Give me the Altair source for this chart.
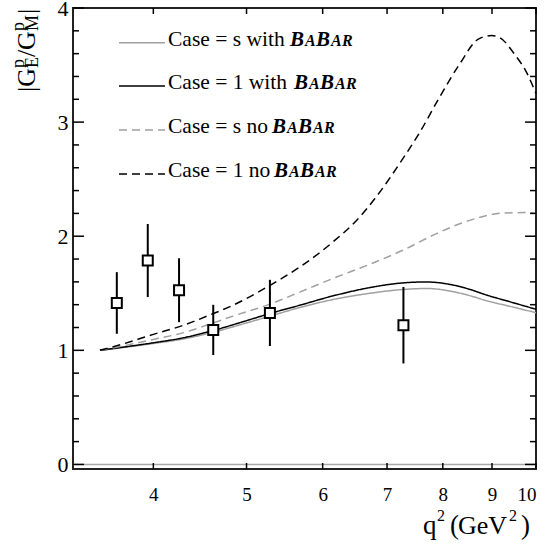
import altair as alt
import pandas as pd

W, H = 463, 461
PL, PT = 73, 8
FONT = "Liberation Serif"

# ---- data ----
pt_q = [3.665, 3.947, 4.254, 4.617, 5.288, 7.28]
pt_v = [1.415, 1.787, 1.527, 1.179, 1.328, 1.220]
pt_err = [0.27, 0.32, 0.28, 0.22, 0.29, 0.335]

q_with = [3.52, 3.7, 4.0, 4.3, 4.6, 5.0, 5.29, 5.68, 6.15, 6.72, 7.27, 7.69, 8.2, 8.55, 8.88, 9.4, 10.0]
v_1_with = [1.00, 1.025, 1.066, 1.11, 1.17, 1.26, 1.323, 1.395, 1.477, 1.55, 1.591, 1.599, 1.572, 1.532, 1.485, 1.425, 1.36]
v_s_with = [1.00, 1.022, 1.06, 1.10, 1.155, 1.24, 1.30, 1.375, 1.445, 1.50, 1.533, 1.542, 1.514, 1.477, 1.435, 1.385, 1.33]

q_s_no = [3.52, 3.7, 4.0, 4.3, 4.6, 4.84, 5.29, 5.68, 6.15, 6.72, 7.27, 7.88, 8.53, 9.24, 9.77, 10.0]
v_s_no = [1.00, 1.035, 1.095, 1.155, 1.235, 1.30, 1.405, 1.51, 1.63, 1.755, 1.877, 2.023, 2.139, 2.203, 2.207, 2.198]

q_1_no = [3.52, 3.7, 4.0, 4.3, 4.58, 4.84, 5.29, 5.68, 6.15, 6.51, 6.80, 7.27, 7.57, 7.94, 8.33, 8.72, 8.99, 9.17, 9.49, 9.77, 10.0]
v_1_no = [1.00, 1.05, 1.14, 1.22, 1.31, 1.395, 1.57, 1.73, 1.95, 2.14, 2.33, 2.68, 2.91, 3.22, 3.51, 3.73, 3.758, 3.74, 3.60, 3.44, 3.25]

series_names = ["s_with", "1_with", "s_no", "1_no"]
series_colors = ["#a0a0a0", "#000000", "#a0a0a0", "#000000"]
series_dash = [[1, 0], [1, 0], [8, 5], [8, 5]]

x_ticks = [4, 5, 6, 7, 8, 9, 10]
y_major = [0, 1, 2, 3, 4]
y_minor = [round(0.2 * i, 1) for i in range(1, 20) if i % 5 != 0]

legend_text = ["Case = s with", "Case = 1 with", "Case = s no", "Case = 1 no"]

# ---- tables ----
rows = []
for name, qs, vs in [("s_with", q_with, v_s_with), ("1_with", q_with, v_1_with),
                     ("s_no", q_s_no, v_s_no), ("1_no", q_1_no, v_1_no)]:
    for q, v in zip(qs, vs):
        rows.append({"series": name, "q": q, "v": v})
curves = pd.DataFrame(rows)

pts = pd.DataFrame({"q": pt_q, "v": pt_v,
                    "lo": [v - e for v, e in zip(pt_v, pt_err)],
                    "hi": [v + e for v, e in zip(pt_v, pt_err)]})

xs = alt.Scale(type="log", domain=[3.3, 10], nice=False)
ys = alt.Scale(domain=[-0.04, 4], nice=False, zero=False)
xaxis = alt.Axis(values=x_ticks, format="d", title=None, ticks=False, domain=False, grid=False,
                 labelFont=FONT, labelFontSize=19, labelColor="black", labelPadding=16,
                 labelFlush=True)
yaxis = alt.Axis(values=y_major, format="d", title=None, ticks=False, domain=False, grid=False,
                 labelFont=FONT, labelFontSize=22, labelColor="black", labelPadding=5)

X = lambda f: alt.X(f, scale=xs, axis=xaxis)
Y = lambda f: alt.Y(f, scale=ys, axis=yaxis)

layers = []

# zero line
layers.append(alt.Chart(pd.DataFrame({"z": [0]})).mark_rule(color="#a8a8a8", strokeWidth=1.5)
              .encode(y=Y("z:Q"), x=alt.value(0), x2=alt.value(W)))

# curves
layers.append(alt.Chart(curves).mark_line(strokeWidth=1.5, interpolate="monotone").encode(
    x=X("q:Q"), y=Y("v:Q"),
    color=alt.Color("series:N", scale=alt.Scale(domain=series_names, range=series_colors), legend=None),
    strokeDash=alt.StrokeDash("series:N", scale=alt.Scale(domain=series_names, range=series_dash), legend=None),
    detail="series:N"))

# error bars + squares
layers.append(alt.Chart(pts).mark_rule(color="black", strokeWidth=2).encode(
    x=X("q:Q"), y=Y("lo:Q"), y2="hi:Q"))
layers.append(alt.Chart(pts).mark_point(shape="square", filled=False, fill="white", fillOpacity=1,
                                        stroke="black", strokeWidth=2, size=100, opacity=1).encode(
    x=X("q:Q"), y=Y("v:Q")))

# inside ticks
ymaj = pd.DataFrame({"t": y_major})
ymin = pd.DataFrame({"t": y_minor})
xt = pd.DataFrame({"t": x_ticks})
tk = dict(color="black", strokeWidth=1.5)
layers += [
    alt.Chart(ymaj).mark_rule(**tk).encode(y=Y("t:Q"), x=alt.value(0), x2=alt.value(11)),
    alt.Chart(ymin).mark_rule(**tk).encode(y=Y("t:Q"), x=alt.value(0), x2=alt.value(6)),
    alt.Chart(ymaj).mark_rule(**tk).encode(y=Y("t:Q"), x=alt.value(W - 11), x2=alt.value(W)),
    alt.Chart(ymin).mark_rule(**tk).encode(y=Y("t:Q"), x=alt.value(W - 6), x2=alt.value(W)),
    alt.Chart(xt).mark_rule(**tk).encode(x=X("t:Q"), y=alt.value(H - 6), y2=alt.value(H)),
    alt.Chart(xt).mark_rule(**tk).encode(x=X("t:Q"), y=alt.value(0), y2=alt.value(6)),
]

one = pd.DataFrame({"a": [0]})


def txt(x, y, s, size, angle=0, style="normal", weight="normal", align="left", baseline="alphabetic"):
    return alt.Chart(one).mark_text(text=s, font=FONT, fontSize=size, fontStyle=style, fontWeight=weight,
                                    align=align, baseline=baseline, angle=angle, color="black").encode(
        x=alt.value(x - PL), y=alt.value(y - PT))


def seg(x1, x2, y, color, dash):
    return alt.Chart(one).mark_rule(color=color, strokeWidth=1.5, strokeDash=dash).encode(
        x=alt.value(x1 - PL), x2=alt.value(x2 - PL), y=alt.value(y - PT))


# legend
line_y = [42.7, 86, 130, 174]
babar_x = [290, 294, 272, 274]
for i in range(4):
    ly = line_y[i]
    base = ly + 3
    layers.append(seg(119, 165, ly, series_colors[i], series_dash[i]))
    layers.append(txt(168, base, legend_text[i], 21.5))
    bx = babar_x[i]
    for dx, ch, fs in [(0, "B", 21), (15, "A", 16), (26, "B", 21), (41, "A", 16), (52, "R", 16)]:
        layers.append(txt(bx + dx, base, ch, fs, style="italic", weight="bold"))

# y title |G^p_E / G^p_M|
for x, y, s, fs in [(35, 92, "|G", 26), (24, 68, "p", 18), (38, 68, "E", 18),
                    (35, 57, "/", 26), (35, 50, "G", 26), (24, 31, "p", 18), (38, 31, "M", 18),
                    (35, 14, "|", 26)]:
    layers.append(txt(x, y, s, fs, angle=270))

# x title q^2 (GeV^2)
for x, y, s, fs in [(423, 534, "q", 27), (437, 521, "2", 16), (450, 534, "(", 27),
                    (458, 534, "GeV", 26), (509, 521, "2", 16), (521, 534, ")", 27)]:
    layers.append(txt(x, y, s, fs))

chart = alt.layer(*layers).properties(
    width=W, height=H,
    autosize=alt.AutoSizeParams(type="none"),
    padding={"left": PL, "top": PT, "right": 547 - PL - W, "bottom": 548 - PT - H},
    background="white",
).configure_view(stroke="#222222", strokeWidth=2)

chart.save("out.html", embed_options={"renderer": "svg", "actions": False})
